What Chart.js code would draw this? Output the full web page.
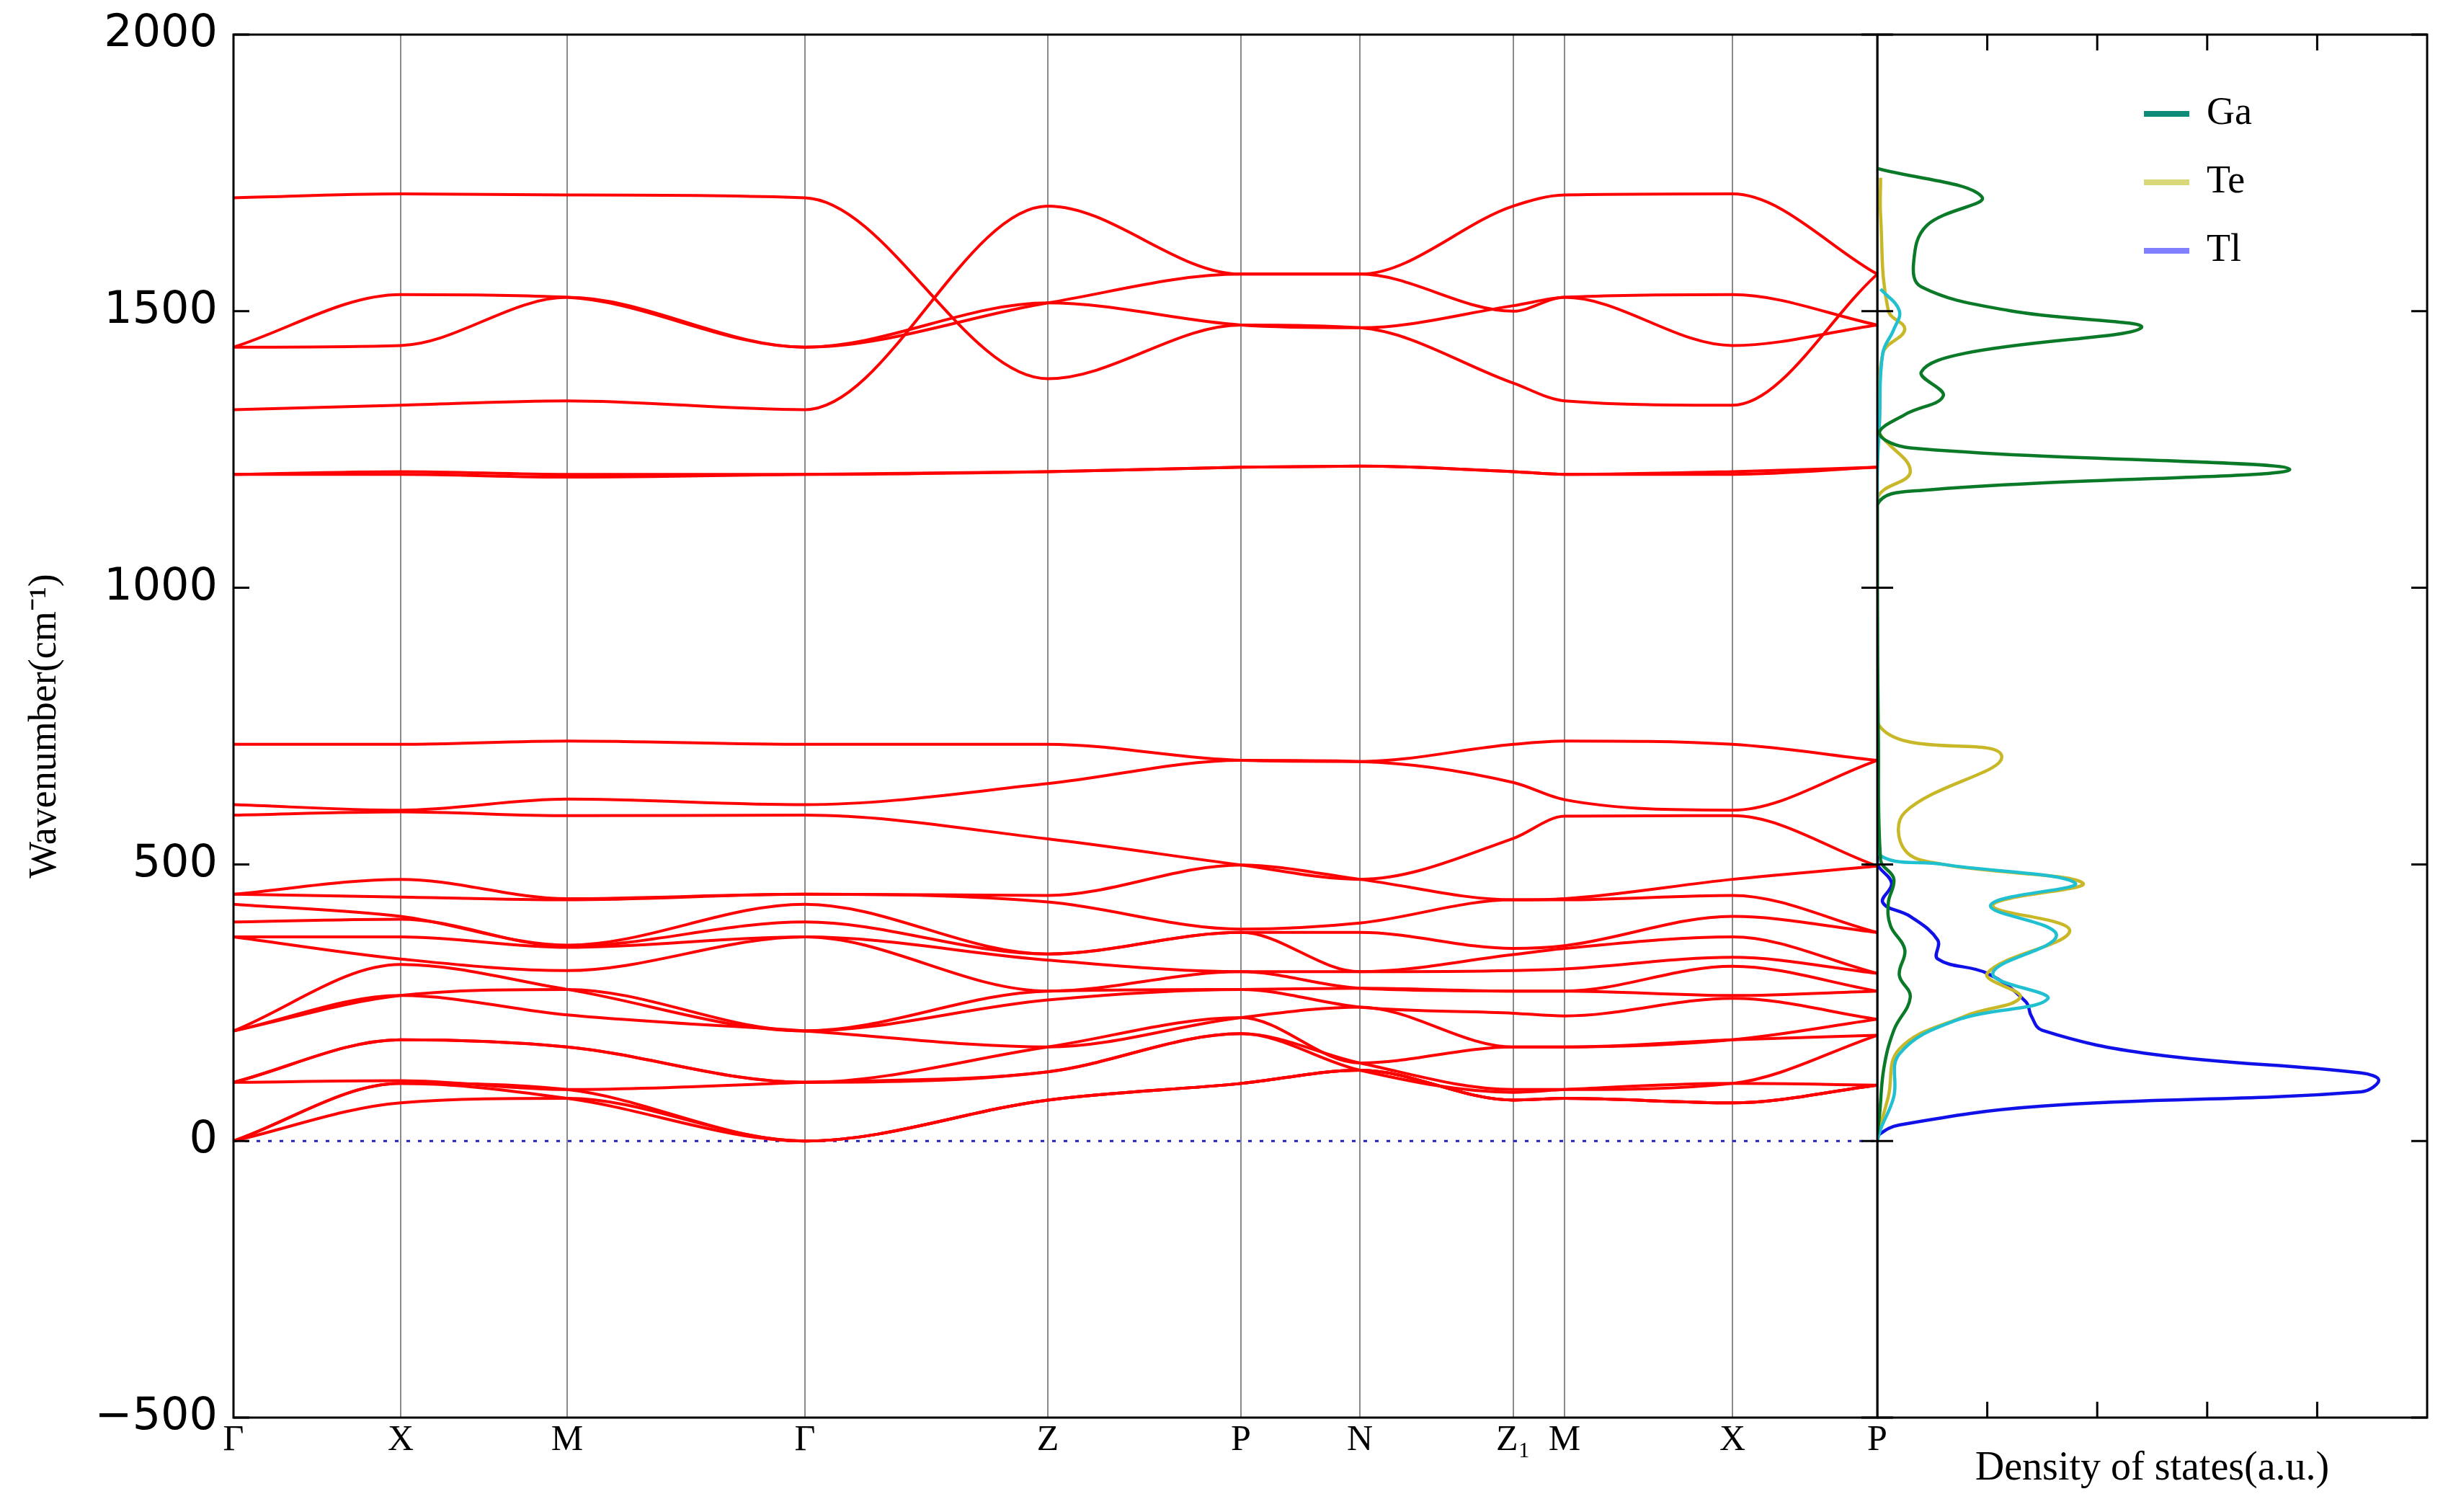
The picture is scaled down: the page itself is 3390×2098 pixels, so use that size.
<!DOCTYPE html>
<html><head><meta charset="utf-8">
<script src="https://cdn.jsdelivr.net/npm/chart.js@4/dist/chart.umd.min.js"></script>
<style>
html,body{margin:0;padding:0;background:#fff;width:3390px;height:2098px;overflow:hidden}
#a{position:absolute;left:0;top:0;width:2660px;height:2098px}
#b{position:absolute;left:2605px;top:0;width:785px;height:2098px}
</style></head><body>
<div id="a"><canvas id="c1"></canvas></div>
<div id="b"><canvas id="c2"></canvas></div>
<script>
// k-path positions and labels
const kpos = [0, 232, 463, 793, 1130, 1398, 1563, 1776, 1847, 2080, 2281];
const klabels = ['Γ','X','M','Γ','Z','P','N','Z₁','M','X','P'];
// high-frequency bands (cm-1) at each k point
const bandH1 = [1705,1712,1710,1705,1378,1475,1470,1370,1338,1330,1567];
const bandH2 = [1322,1330,1338,1322,1690,1567,1567,1690,1710,1712,1567];
const bandH3 = [1435,1530,1525,1435,1515,1475,1470,1510,1525,1530,1475];
const bandH4 = [1435,1438,1525,1435,1515,1567,1567,1500,1525,1438,1475];
const bandH5 = [1205,1210,1205,1205,1210,1218,1220,1210,1205,1210,1218];
const bandH6 = [1205,1205,1200,1205,1210,1218,1220,1210,1205,1205,1218];
// low-frequency band values at each k point (descending)
const lowG  = [717,608,589,446,446,428,396,369,369,199,199,199,106,106,106,0,0,0];
const lowX  = [717,598,595,473,441,406,401,369,329,319,263,263,183,183,109,104,104,69];
const lowM  = [723,618,588,438,436,354,352,350,308,274,274,228,170,170,93,93,77,77];
const lowZ  = [717,646,546,444,432,338,338,327,271,271,255,170,170,125,125,74,74,74];
const lowP  = [688,688,499,499,383,377,377,306,306,274,274,223,223,194,194,104,104,104];
const lowN  = [686,686,473,473,394,377,306,306,276,276,242,242,141,141,128,128,128,128];
const lowZ1 = [717,648,547,436,436,348,337,308,271,271,231,170,170,93,88,74,74,74];
const lowM2 = [723,617,587,438,436,353,348,311,271,271,226,170,170,93,93,77,77,77];
const lowX2 = [717,598,588,473,444,406,369,332,316,263,258,183,183,104,104,69,69,69];
const lowP2 = [688,688,497,497,377,377,303,303,271,271,220,220,191,191,101,101,101,101];
// DOS curves: frequency (cm-1) and density (a.u.)
const gaFreq = [1758,1707,1655,1587,1544,1501,1470,1424,1390,1347,1313,1279,1253,1214,1176,1150,1000,731,508,474,430,389,346,300,260,200,132,46,12];
const gaDos  = [0,0.95,0.45,0.33,0.4,1.2,2.4,0.8,0.4,0.6,0.25,0.02,0.3,3.75,0.4,0,0,0.01,0.03,0.15,0.1,0.12,0.25,0.2,0.3,0.15,0.06,0.02,0];
const teFreq = [1741,1673,1501,1467,1424,1300,1279,1210,1159,757,697,594,526,500,466,426,380,303,260,226,166,80,21,0];
const teDos  = [0.03,0.03,0.1,0.25,0.05,0.02,0.02,0.3,0,0,1.13,0.25,0.25,0.6,1.87,1.05,1.75,1.0,1.3,0.8,0.2,0.1,0.02,0];
const cyFreq = [1540,1501,1467,1424,1300,1200,1000,800,600,520,500,466,426,372,303,257,217,157,80,21,0];
const cyDos  = [0.03,0.2,0.15,0.05,0.02,0,0,0,0,0,0.6,1.8,1.03,1.63,1.05,1.55,0.7,0.2,0.15,0.03,0];
const tlFreq = [520,500,466,431,406,363,329,303,252,226,200,157,123,110,89,63,29,12,0];
const tlDos  = [0,0,0.13,0.05,0.3,0.55,0.55,1.0,1.35,1.4,1.5,2.5,4.4,4.56,4.4,1.5,0.2,0.02,0];
const legendNames = ['Ga','Te','Tl'];
const legendColors = ['#0e8a78','#d8d878','#8080ff'];

const yMin=-500, yMax=2000, yStep=500;
const lowSets=[lowG,lowX,lowM,lowG,lowZ,lowP,lowN,lowZ1,lowM2,lowX2,lowP2];

function frame(inL, inR, xTicks){
  return {id:'frame',afterDraw(ch){
    const c=ch.ctx,a=ch.chartArea,ys=ch.scales.y,xs=ch.scales.x;
    c.save();c.strokeStyle='#000';c.lineWidth=3;
    c.strokeRect(a.left,a.top,a.right-a.left,a.bottom-a.top);
    const L=22;
    for(let v=yMin;v<=yMax;v+=yStep){const y=ys.getPixelForValue(v);
      c.beginPath();
      if(inL){c.moveTo(a.left,y);c.lineTo(a.left+L,y);}
      if(inR){c.moveTo(a.right,y);c.lineTo(a.right-L,y);}
      c.stroke();}
    (xTicks||[]).forEach(v=>{const x=xs.getPixelForValue(v);c.beginPath();
      c.moveTo(x,a.top);c.lineTo(x,a.top+L);c.moveTo(x,a.bottom);c.lineTo(x,a.bottom-L);c.stroke();});
    c.restore();}};
}

const ds1=[];
[bandH1,bandH2,bandH3,bandH4,bandH5,bandH6].forEach(b=>ds1.push({data:b.map((v,i)=>({x:kpos[i],y:v}))}));
for(let j=0;j<18;j++) ds1.push({data:lowSets.map((s,i)=>({x:kpos[i],y:s[j]}))});
ds1.forEach(d=>Object.assign(d,{borderColor:'#ff0000',borderWidth:4,pointRadius:0,cubicInterpolationMode:'monotone',fill:false}));
ds1.push({data:[{x:kpos[0],y:0},{x:kpos[kpos.length-1],y:0}],borderColor:'#2020c0',borderWidth:3,borderDash:[5,11],pointRadius:0});

new Chart(document.getElementById('c1'),{type:'line',data:{datasets:ds1},
 options:{responsive:true,maintainAspectRatio:false,animation:false,
  layout:{padding:{top:48,right:55,left:0,bottom:0}},
  plugins:{legend:{display:false},tooltip:{enabled:false}},
  scales:{
   x:{type:'linear',min:kpos[0],max:kpos[kpos.length-1],
      afterBuildTicks(s){s.ticks=kpos.map(v=>({value:v}));},
      afterFit(s){s.height=131;s.paddingLeft=0;s.paddingRight=0;},
      grid:{color:'#8a8a8a',lineWidth:2,drawTicks:false},border:{display:false},
      ticks:{autoSkip:false,maxRotation:0,padding:2,color:'#000',font:{family:'Liberation Serif',size:50},
        callback:(v,i)=>klabels[i]}},
   y:{min:yMin,max:yMax,afterFit(s){s.width=324;s.paddingTop=0;s.paddingBottom=0;},
      afterBuildTicks(s){const t=[];for(let v=yMin;v<=yMax;v+=yStep)t.push({value:v});s.ticks=t;},
      grid:{display:false},border:{display:false},
      ticks:{padding:14,color:'#000',font:{family:'DejaVu Sans',size:62},callback:v=>v<0?'−'+Math.abs(v):String(v)},
      title:{display:true,text:'Wavenumber(cm⁻¹)',color:'#000',font:{family:'Liberation Serif',size:54},padding:{top:30,bottom:0}}}
  }},
 plugins:[frame(true,true,[])]});

function dosSet(f,d,col){return {data:f.map((v,i)=>({x:d[i],y:v})),borderColor:col,borderWidth:4.5,pointRadius:0,showLine:true,tension:0.4,fill:false};}
const ds2=[dosSet(gaFreq,gaDos,'#0a7a28'),dosSet(cyFreq,cyDos,'#20c0d0'),dosSet(teFreq,teDos,'#c8b828'),dosSet(tlFreq,tlDos,'#1010e8')];

const legendPlugin={id:'lg',afterDraw(ch){const c=ch.ctx;c.save();
  c.font='54px "Liberation Serif"';c.textBaseline='middle';
  legendNames.forEach((n,i)=>{const y=158+i*95;c.strokeStyle=legendColors[i];c.lineWidth=8;
    c.beginPath();c.moveTo(2975-2605,y);c.lineTo(3038-2605,y);c.stroke();c.fillStyle='#000';c.fillText(n,3062-2605,y);});
  c.restore();}};

new Chart(document.getElementById('c2'),{type:'scatter',data:{datasets:ds2},
 options:{responsive:true,maintainAspectRatio:false,animation:false,
  layout:{padding:{top:48,right:22,left:0,bottom:0}},
  plugins:{legend:{display:false},tooltip:{enabled:false}},
  scales:{
   x:{type:'linear',min:0,max:5,afterFit(s){s.height=131;s.paddingLeft=0;s.paddingRight=0;},grid:{display:false},border:{display:false},
      ticks:{display:false},
      title:{display:true,text:'Density of states(a.u.)',color:'#000',font:{family:'Liberation Serif',size:56},padding:{top:0,bottom:26}}},
   y:{min:yMin,max:yMax,afterFit(s){s.width=0;s.paddingTop=0;s.paddingBottom=0;},grid:{display:false},border:{display:false},ticks:{display:false}}
  }},
 plugins:[frame(true,true,[1,2,3,4]),legendPlugin]});
</script></body></html>
